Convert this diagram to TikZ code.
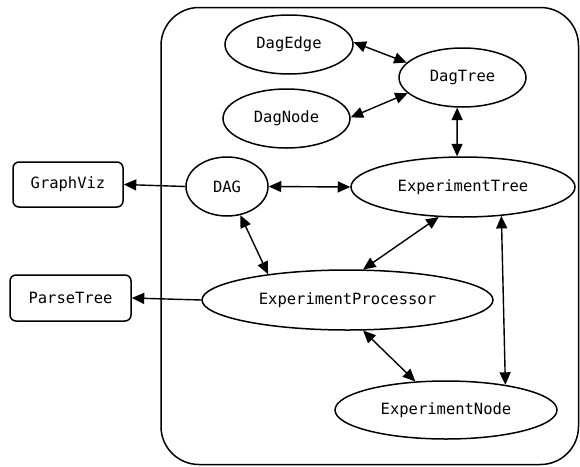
\documentclass[tikz,border=0pt]{standalone}
\usepackage{fontspec}
\setmonofont{DejaVu Sans Mono}
\usetikzlibrary{shapes.geometric,arrows.meta}
\begin{document}
\begin{tikzpicture}[x=1pt,y=-1pt,
  every node/.style={font=\ttfamily\fontsize{15.5}{18}\selectfont, line width=1.5pt, inner sep=0pt},
  ell/.style={draw, ellipse},
  box/.style={draw, rounded corners=6pt},
  conn/.style={line width=1.4pt},
  both/.style={conn, {Triangle[length=12.5pt,width=11pt]}-{Triangle[length=12.5pt,width=11pt]}},
  one/.style={conn, -{Triangle[length=12.5pt,width=11pt]}}]
\useasboundingbox (0,0) rectangle (580,466);
\draw[line width=1.5pt, rounded corners=38pt] (161,7.5) rectangle (578.5,464.5);

\node[ell, minimum width=128pt, minimum height=59pt] (E1) at (289,44.5) {DagEdge};
\node[ell, minimum width=127pt, minimum height=59pt] (T) at (462.5,77.5) {DagTree};
\node[ell, minimum width=127pt, minimum height=59pt] (N) at (286.5,118.5) {DagNode};
\node[ell, minimum width=82pt, minimum height=59pt] (D) at (227,186.5) {DAG};
\node[ell, minimum width=224pt, minimum height=60pt] (ET) at (463,187) {ExperimentTree};
\node[ell, minimum width=291pt, minimum height=60pt] (EP) at (347.5,300) {ExperimentProcessor};
\node[ell, minimum width=222pt, minimum height=58pt] (EN) at (446,410) {ExperimentNode};
\node[box, minimum width=110pt, minimum height=45pt] (G) at (68,184.5) {GraphViz};
\node[box, minimum width=121pt, minimum height=46pt] (P) at (70.5,298) {ParseTree};

\draw[one] (D.west) -- (G.east);
\draw[one] (EP.west) -- (P.east);
\draw[both] (E1.2) -- (T.165);
\draw[both] (N.1) -- (T.-164);
\draw[both] (T.-100) -- (ET.101);
\draw[both] (D.east) -- (ET.west);
\draw[both] (D.-65) -- (EP.162);
\draw[both] (ET.-129) -- (EP.63);
\draw[both] (ET.-37) -- (EN.23);
\draw[both] (EP.-63) -- (EN.137);
\end{tikzpicture}
\end{document}
